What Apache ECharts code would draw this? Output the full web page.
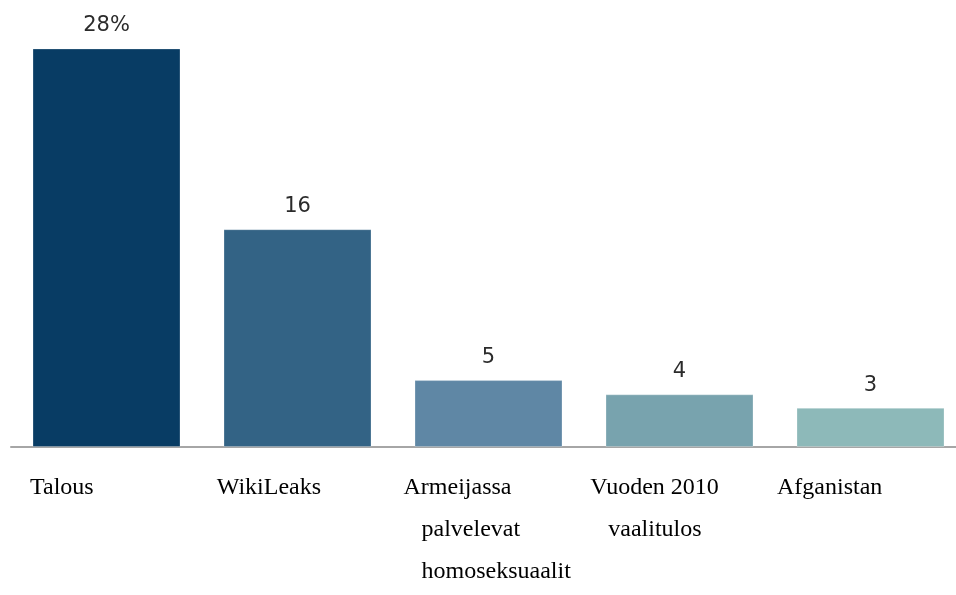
<!DOCTYPE html>
<html>
<head>
<meta charset="utf-8">
<script src="https://cdn.jsdelivr.net/npm/echarts@6/dist/echarts.min.js"></script>
<style>
html,body{margin:0;padding:0;background:#fff;}
#chart{width:956px;height:595px;}
</style>
</head>
<body>
<div id="chart"></div>
<script>
// Data
var categories = ['Talous', 'WikiLeaks', 'Armeijassa\npalvelevat\nhomoseksuaalit', 'Vuoden 2010\nvaalitulos', 'Afganistan'];
var values = [28.0, 15.3, 4.7, 3.7, 2.75];
var valueLabels = ['28%', '16', '5', '4', '3'];

// Styles
var barColors = ['#083c64', '#336385', '#5f87a5', '#78a3ae', '#8db9b9'];

var chart = echarts.init(document.getElementById('chart'), null, {renderer: 'canvas'});

var seriesData = values.map(function (v, i) {
  return {value: v, itemStyle: {color: barColors[i]}};
});

chart.setOption({
  animation: false,
  backgroundColor: '#ffffff',
  grid: [
    {left: 11, width: 955, top: 20, bottom: 148, outerBoundsMode: 'none', containLabel: false},
    {left: 30, width: 747, top: 20, bottom: 148, outerBoundsMode: 'none', containLabel: false}
  ],
  xAxis: [
    {
      type: 'category',
      gridIndex: 0,
      data: categories,
      axisLine: {show: true, lineStyle: {color: '#a6a6a6', width: 2}},
      axisTick: {show: false},
      axisLabel: {show: false},
      splitLine: {show: false}
    },
    {
      type: 'category',
      gridIndex: 1,
      boundaryGap: false,
      data: categories,
      axisLine: {show: false},
      axisTick: {show: false},
      splitLine: {show: false},
      axisLabel: {
        show: true,
        interval: 0,
        align: 'left',
        verticalAlign: 'top',
        margin: 20,
        fontFamily: 'Liberation Serif',
        fontSize: 24,
        color: '#000',
        lineHeight: 42,
        formatter: function (v) {
          return v.split('\n').map(function (l, i) {
            return (i === 0 ? '{f|' : '{n|') + l + '}';
          }).join('\n');
        },
        rich: {
          f: {align: 'left', fontFamily: 'Liberation Serif', fontSize: 24, color: '#000', lineHeight: 42},
          n: {align: 'left', fontFamily: 'Liberation Serif', fontSize: 24, color: '#000', lineHeight: 42, padding: [0, 0, 0, 18]}
        }
      }
    }
  ],
  yAxis: [
    {type: 'value', gridIndex: 0, min: 0, max: 30, show: false},
    {type: 'value', gridIndex: 1, min: 0, max: 30, show: false}
  ],
  series: [
    {
      type: 'bar',
      xAxisIndex: 0,
      yAxisIndex: 0,
      data: seriesData,
      barWidth: 148,
      itemStyle: {borderColor: 'rgba(255,255,255,0.25)', borderWidth: 1},
      label: {
        show: true,
        position: 'top',
        distance: 12,
        fontFamily: 'DejaVu Sans',
        fontSize: 21,
        color: '#2b2b2b',
        formatter: function (p) { return valueLabels[p.dataIndex]; }
      }
    }
  ]
});
</script>
</body>
</html>
